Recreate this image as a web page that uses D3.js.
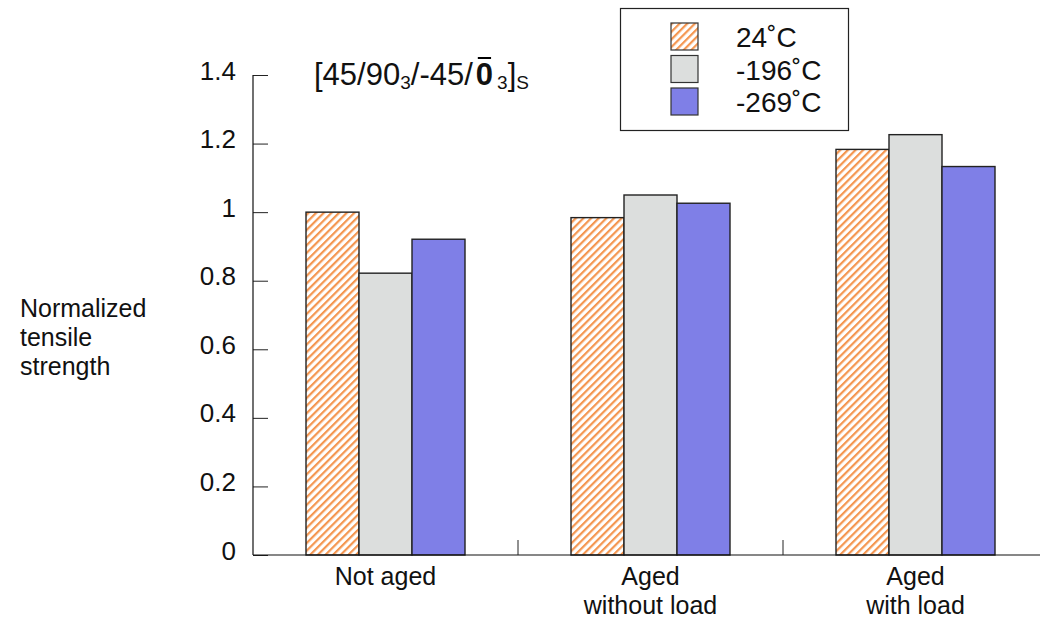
<!DOCTYPE html>
<html>
<head>
<meta charset="utf-8">
<script src="https://cdn.jsdelivr.net/npm/d3@7"></script>
<style>
  html, body { margin: 0; padding: 0; background: #fff; }
  svg { display: block; font-family: "Liberation Sans", Arial, Helvetica, sans-serif; }
</style>
</head>
<body>
<svg id="chart" width="1040" height="621"></svg>
<script>
// Tensile strength normalised to the unaged room-temperature value
const categories = [["Not aged"], ["Aged", "without load"], ["Aged", "with load"]];
const seriesNames = ["24˚C", "-196˚C", "-269˚C"];
const strength24 = [1.0, 0.984, 1.183];
const strength196 = [0.822, 1.05, 1.226];
const strength269 = [0.921, 1.026, 1.133];
const yTicks = [0, 0.2, 0.4, 0.6, 0.8, 1, 1.2, 1.4];
const yTitle = ["Normalized", "tensile", "strength"];

const series = [strength24, strength196, strength269];
const fills = ["url(#hatch)", "#dcdedd", "#7f7fe7"];

const svg = d3.select("#chart");
const defs = svg.append("defs");
const pat = defs.append("pattern")
  .attr("id", "hatch")
  .attr("patternUnits", "userSpaceOnUse")
  .attr("width", 5.4).attr("height", 5.4)
  .attr("patternTransform", "rotate(45)");
pat.append("rect").attr("width", 5.4).attr("height", 5.4).attr("fill", "#fff");
pat.append("rect").attr("x", 0).attr("y", 0).attr("width", 2.2).attr("height", 5.4).attr("fill", "#f49650");

const x0 = 253, x1 = 1048, yTop = 75, yBase = 555;
const x = d3.scaleBand().domain(d3.range(categories.length)).range([x0, x1]).padding(0);
const y = d3.scaleLinear().domain([0, 1.4]).range([yBase, yTop]);
const groupW = 159;
const xs = d3.scaleBand().domain(d3.range(series.length)).range([0, groupW]).padding(0);

// bars
const groups = svg.append("g").selectAll("g")
  .data(categories.map((c, i) => i))
  .join("g")
  .attr("transform", i => `translate(${x(i) + (x.bandwidth() - groupW) / 2},0)`);

groups.selectAll("rect")
  .data(i => series.map((s, k) => ({ k, v: s[i] })))
  .join("rect")
  .attr("x", d => xs(d.k))
  .attr("y", d => y(d.v))
  .attr("width", xs.bandwidth())
  .attr("height", d => yBase - y(d.v))
  .attr("fill", d => fills[d.k])
  .attr("stroke", "#222")
  .attr("stroke-width", 1.4);

// y axis
const yAxis = svg.append("g")
  .attr("transform", `translate(${x0},0)`)
  .call(d3.axisRight(y).tickValues(yTicks).tickSize(15).tickFormat(""));
yAxis.select(".domain").remove();
yAxis.selectAll("line").attr("stroke", "#222").attr("stroke-width", 1);
svg.append("line").attr("x1", x0).attr("x2", x0).attr("y1", yTop).attr("y2", yBase)
  .attr("stroke", "#111").attr("stroke-width", 1.2);

svg.append("g").selectAll("text")
  .data(yTicks)
  .join("text")
  .attr("x", 236)
  .attr("y", d => y(d) + 4.5)
  .attr("text-anchor", "end")
  .attr("font-size", 26)
  .attr("fill", "#111")
  .text(d => d3.format("~g")(d));

// x axis
svg.append("line").attr("x1", x0).attr("x2", 1040).attr("y1", yBase).attr("y2", yBase)
  .attr("stroke", "#111").attr("stroke-width", 1.2);
svg.append("g").selectAll("line")
  .data(d3.range(1, categories.length))
  .join("line")
  .attr("x1", i => x(i)).attr("x2", i => x(i))
  .attr("y1", yBase).attr("y2", yBase - 15)
  .attr("stroke", "#222").attr("stroke-width", 1);

svg.append("g").selectAll("text")
  .data(categories.map((c, i) => ({ c, i })))
  .join("text")
  .attr("text-anchor", "middle")
  .attr("font-size", 25)
  .attr("fill", "#111")
  .each(function (d) {
    const t = d3.select(this);
    d.c.forEach((line, j) => {
      t.append("tspan")
        .attr("x", x(d.i) + x.bandwidth() / 2)
        .attr("y", 585 + j * 29)
        .text(line);
    });
  });

// y title
svg.append("text")
  .attr("font-size", 25)
  .attr("fill", "#111")
  .selectAll("tspan")
  .data(yTitle)
  .join("tspan")
  .attr("x", 20)
  .attr("y", (d, j) => 317 + j * 29)
  .text(d => d);

// laminate stacking sequence
const lam = svg.append("text").attr("x", 314).attr("y", 85).attr("font-size", 31).attr("fill", "#111");
lam.append("tspan").text("[45/90");
lam.append("tspan").attr("font-size", 19).attr("dy", 4).text("3");
lam.append("tspan").attr("dy", -4).text("/-45/");
const zero = lam.append("tspan").attr("font-weight", "bold").attr("dx", 3).text("0");
lam.append("tspan").attr("font-size", 19).attr("dy", 4).attr("dx", 4).text("3");
lam.append("tspan").attr("dy", -4).text("]");
lam.append("tspan").attr("font-size", 19).attr("dy", 4).text("S");
const zb = zero.node().getBBox();
svg.append("line")
  .attr("x1", zb.x + 2).attr("x2", zb.x + zb.width - 2)
  .attr("y1", zb.y + 1).attr("y2", zb.y + 1)
  .attr("stroke", "#000").attr("stroke-width", 2);

// legend
svg.append("rect").attr("x", 620.5).attr("y", 8.5).attr("width", 228).attr("height", 122)
  .attr("fill", "#fff").attr("stroke", "#222").attr("stroke-width", 1.2);
const leg = svg.append("g").selectAll("g")
  .data(seriesNames.map((n, k) => ({ n, k })))
  .join("g")
  .attr("transform", d => `translate(671,${23 + d.k * 32.5})`);
leg.append("rect").attr("width", 27).attr("height", 27)
  .attr("fill", d => fills[d.k]).attr("stroke", "#333").attr("stroke-width", 1.2);
leg.append("text").attr("x", 65).attr("y", 24).attr("font-size", 28).attr("fill", "#111").text(d => d.n);
</script>
</body>
</html>
